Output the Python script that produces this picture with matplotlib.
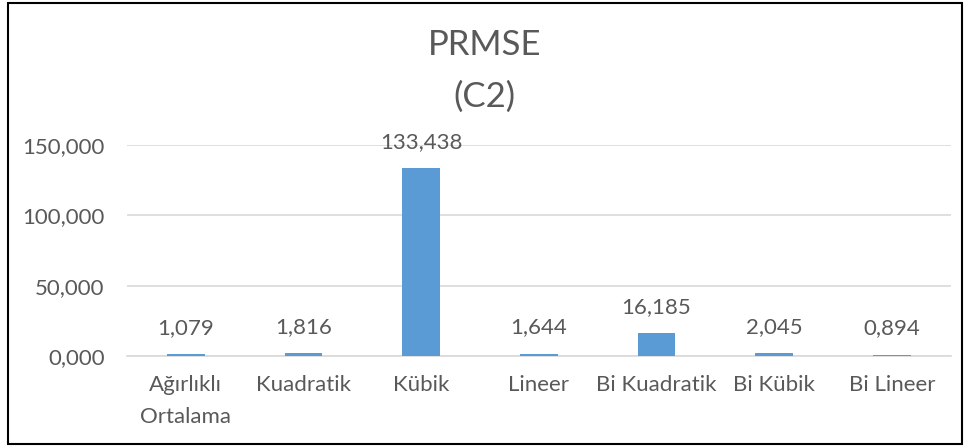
import matplotlib

matplotlib.use("Agg")
import matplotlib.pyplot as plt
from matplotlib.patches import Rectangle
from matplotlib.ticker import FuncFormatter

# PRMSE per interpolation method, C2 case.
methods = [
    "Ağırlıklı\nOrtalama",
    "Kuadratik",
    "Kübik",
    "Lineer",
    "Bi Kuadratik",
    "Bi Kübik",
    "Bi Lineer",
]
prmse = [1.079, 1.816, 133.438, 1.644, 16.185, 2.045, 0.894]
y_ticks = [0, 50, 100, 150]

BAR_COLOR = "#5B9BD5"
TEXT_COLOR = "#595959"
GRID_COLOR = "#D9D9D9"
LABEL_SIZE = 16


def tr_num(v):
    # Turkish style decimal comma
    return f"{v:.3f}".replace(".", ",")


plt.rcParams["font.family"] = ["Lato", "DejaVu Sans"]

fig = plt.figure(figsize=(9.69, 4.48), dpi=100)
ax = fig.add_axes([0.131, 0.2054, 0.85, 0.4709])

x = list(range(len(methods)))
bars = ax.bar(x, prmse, width=0.32, color=BAR_COLOR, zorder=3)

for rect, v in zip(bars, prmse):
    ax.annotate(
        tr_num(v),
        (rect.get_x() + rect.get_width() / 2, rect.get_height()),
        xytext=(0, 19),
        textcoords="offset points",
        ha="center",
        va="center",
        fontsize=LABEL_SIZE,
        color=TEXT_COLOR,
        zorder=4,
    )

ax.set_xlim(-0.5, len(methods) - 0.5)
ax.set_ylim(0, 150)
ax.set_yticks(y_ticks)
ax.yaxis.set_major_formatter(FuncFormatter(lambda v, _: tr_num(v)))
ax.set_xticks(x)
ax.set_xticklabels(methods, linespacing=1.7)
ax.tick_params(axis="both", length=0, labelsize=LABEL_SIZE, labelcolor=TEXT_COLOR)
ax.tick_params(axis="y", pad=16)
ax.tick_params(axis="x", pad=14)
ax.grid(axis="y", color=GRID_COLOR, linewidth=1.2, zorder=0)
for side in ("top", "right", "left"):
    ax.spines[side].set_visible(False)
ax.spines["bottom"].set_color(GRID_COLOR)
ax.spines["bottom"].set_linewidth(1.2)

fig.text(0.5, 0.90, "PRMSE", ha="center", va="center", fontsize=25, color=TEXT_COLOR)
fig.text(0.5, 0.785, "(C2)", ha="center", va="center", fontsize=25, color=TEXT_COLOR)

# outer chart border
fig.patches.append(
    Rectangle(
        (0.0083, 0.0089), 0.9845, 0.9844,
        transform=fig.transFigure, fill=False, edgecolor="black", linewidth=1.5,
    )
)

fig.savefig("out.png", dpi=100)
